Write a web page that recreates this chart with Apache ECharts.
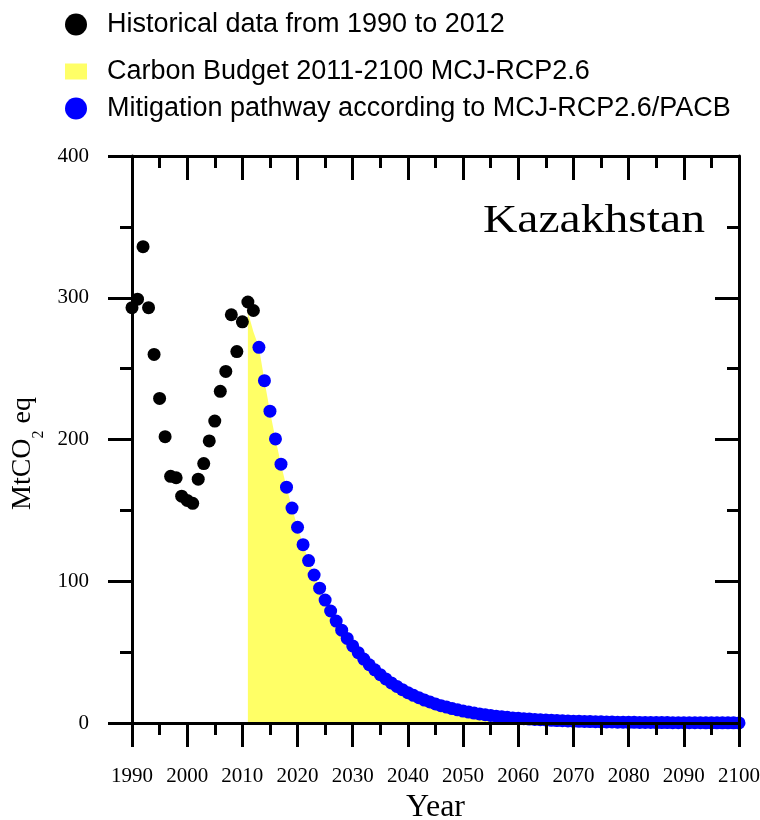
<!DOCTYPE html>
<html>
<head>
<meta charset="utf-8">
<script src="https://cdn.jsdelivr.net/npm/echarts@6/dist/echarts.min.js"></script>
<style>html,body{margin:0;padding:0;background:#fff;}#c{width:760px;height:820px;}</style>
</head>
<body>
<div id="c"></div>
<script>
// Historical data 1990-2012 (MtCO2 eq)
const histStart = 1990;
const historical = [293, 299, 336, 293, 260, 229, 202, 174, 173, 160, 157, 155, 172, 183, 199, 213, 234, 248, 288, 262, 283, 297, 291];

// Mitigation pathway 2013-2100
const pathStart = 2013;
const pathway = [
  265, 241.5, 220, 200.4, 182.6, 166.4, 151.6, 138.1, 125.8, 114.6,
  104.4, 95.1, 86.7, 79.0, 71.9, 65.5, 59.7, 54.4, 49.6, 45.1,
  41.1, 37.5, 34.1, 31.1, 28.3, 25.8, 23.5, 21.4, 19.5, 17.8,
  16.2, 14.8, 13.4, 12.2, 11.2, 10.2, 9.3, 8.4, 7.7, 7.0,
  6.4, 5.8, 5.3, 4.8, 4.4, 4.0, 3.6, 3.3, 3.0, 2.8,
  2.5, 2.3, 2.1, 1.9, 1.7, 1.6, 1.4, 1.3, 1.2, 1.1,
  1.0, 0.9, 0.8, 0.75, 0.7, 0.6, 0.55, 0.5, 0.45, 0.4,
  0.38, 0.35, 0.32, 0.3, 0.27, 0.25, 0.23, 0.21, 0.19, 0.17,
  0.16, 0.15, 0.13, 0.12, 0.11, 0.1, 0.09, 0.08
];

// Carbon budget area 2011-2100 (starts at 2011, joins pathway from 2013)
const budgetStart = 2011;
const budgetHead = [290, 276];

const seriesNames = [
  'Historical data from 1990 to 2012',
  'Carbon Budget 2011-2100 MCJ-RCP2.6',
  'Mitigation pathway according to MCJ-RCP2.6/PACB'
];
const countryName = 'Kazakhstan';

const histData = historical.map((v, i) => [histStart + i, v]);
const pathData = pathway.map((v, i) => [pathStart + i, v]);
const budgetData = budgetHead.concat(pathway).map((v, i) => [budgetStart + i, v]);

const serif = 'Liberation Serif';
const sans = 'Liberation Sans';
const black = '#000';
const lineW = 3;

function axisCommon(inside, showLabel, margin) {
  return {
    z: 10,
    axisLine: { onZero: false, lineStyle: { color: black, width: lineW } },
    axisTick: { inside: inside, length: 24, lineStyle: { color: black, width: lineW } },
    minorTick: { show: true, splitNumber: 2, length: 12, lineStyle: { color: black, width: lineW } },
    axisLabel: { show: showLabel, margin: margin, fontFamily: serif, fontSize: 21, color: black,
                 formatter: function (v) { return String(v); } },
    splitLine: { show: false }, minorSplitLine: { show: false }
  };
}
function xAxisCfg(pos, inside, showLabel) {
  return Object.assign({ type: 'value', position: pos, min: 1990, max: 2100, interval: 10 },
    axisCommon(inside, showLabel, 43));
}
function yAxisCfg(pos, inside, showLabel) {
  return Object.assign({ type: 'value', position: pos, min: 0, max: 400, interval: 100 },
    axisCommon(inside, showLabel, 43));
}

const xb = xAxisCfg('bottom', false, true);
xb.name = 'Year';
xb.nameLocation = 'middle';
xb.nameGap = 69;
xb.nameTextStyle = { fontFamily: serif, fontSize: 32, color: black };
const xt = xAxisCfg('top', true, false);

const yl = yAxisCfg('left', false, true);
yl.name = '{n|MtCO}{s|2}{n| eq}';
yl.nameLocation = 'middle';
yl.nameRotate = 90;
yl.nameGap = 87;
yl.nameTextStyle = {
  fontFamily: serif, fontSize: 28, color: black,
  padding: [0, 28, 0, 0],
  rich: {
    n: { fontFamily: serif, fontSize: 28, color: black, lineHeight: 30, verticalAlign: 'top' },
    s: { fontFamily: serif, fontSize: 16, color: black, lineHeight: 16, verticalAlign: 'top', padding: [22, 0, 0, 0] }
  }
};
const yr = yAxisCfg('right', true, false);

function legendCfg(name, icon, top, w, h) {
  return {
    data: [{ name: name, icon: icon }],
    left: 65, top: top, padding: 0,
    itemWidth: w, itemHeight: h, itemGap: 0,
    selectedMode: false,
    textStyle: { fontFamily: sans, fontSize: 27, color: black, padding: [0, 0, 0, 15] }
  };
}

const option = {
  animation: false,
  backgroundColor: '#fff',
  grid: { left: 132, right: 21, top: 156, bottom: 97, outerBoundsMode: 'none', containLabel: false },
  legend: [
    legendCfg(seriesNames[0], 'circle', 11, 22, 22),
    legendCfg(seriesNames[1], 'path://M0,0h22v16h-22z', 58, 22, 16),
    legendCfg(seriesNames[2], 'circle', 95, 22, 22)
  ],
  xAxis: [xb, xt],
  yAxis: [yl, yr],
  graphic: [{
    type: 'text', x: 483, y: 222, scaleX: 1.22, scaleY: 1,
    style: { text: countryName, fontFamily: serif, fontSize: 39, fill: black, align: 'left', verticalAlign: 'middle' }
  }],
  series: [
    {
      name: seriesNames[1], type: 'line', data: budgetData,
      xAxisIndex: 0, yAxisIndex: 0,
      symbol: 'none', showSymbol: false, z: 1,
      lineStyle: { width: 0, color: '#ffff66' },
      itemStyle: { color: '#ffff66' },
      areaStyle: { color: '#ffff66', opacity: 1 }
    },
    {
      name: seriesNames[2], type: 'scatter', data: pathData,
      symbol: 'circle', symbolSize: 13, z: 2,
      itemStyle: { color: '#0000ff', opacity: 1 }
    },
    {
      name: seriesNames[0], type: 'scatter', data: histData,
      symbol: 'circle', symbolSize: 13, z: 3,
      itemStyle: { color: '#000', opacity: 1 }
    }
  ]
};

const chart = echarts.init(document.getElementById('c'), null, { renderer: 'canvas' });
chart.setOption(option);
</script>
</body>
</html>
